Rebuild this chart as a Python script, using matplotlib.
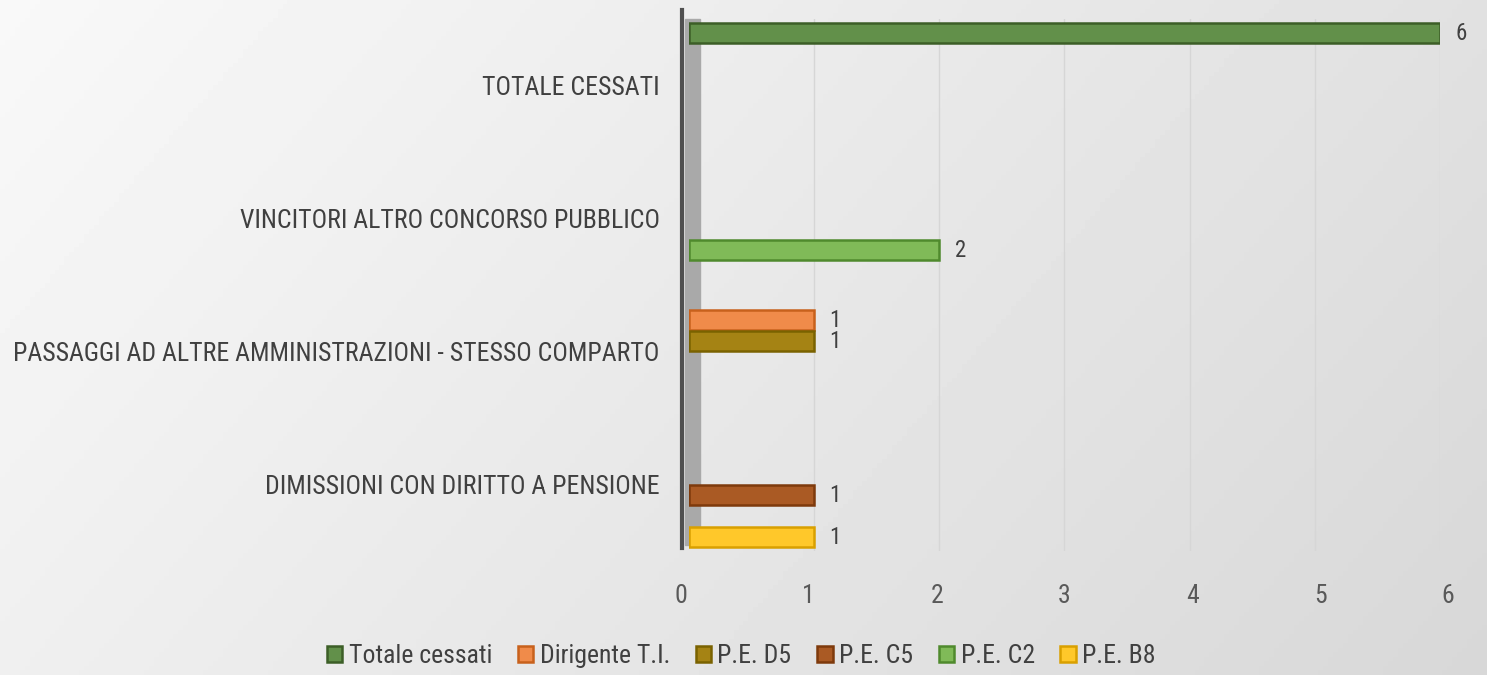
import numpy as np
import matplotlib.pyplot as plt
from matplotlib import font_manager as fm
from matplotlib.patches import Rectangle

# data (categories bottom -> top, as in the Excel chart)
categories = ['DIMISSIONI CON DIRITTO A PENSIONE',
              'PASSAGGI AD ALTRE AMMINISTRAZIONI - STESSO COMPARTO',
              'VINCITORI ALTRO CONCORSO PUBBLICO',
              'TOTALE CESSATI']
series_names = ['Totale cessati', 'Dirigente T.I.', 'P.E. D5', 'P.E. C5', 'P.E. C2', 'P.E. B8']
totale_cessati = [0, 0, 0, 6]
dirigente_ti = [0, 1, 0, 0]
pe_d5 = [0, 1, 0, 0]
pe_c5 = [1, 0, 0, 0]
pe_c2 = [0, 0, 2, 0]
pe_b8 = [1, 0, 0, 0]
xticks = [0, 1, 2, 3, 4, 5, 6]

values = [totale_cessati, dirigente_ti, pe_d5, pe_c5, pe_c2, pe_b8]
face = ['#62904a', '#f08b4a', '#a58314', '#aa5a24', '#80ba58', '#ffc82a']
edge = ['#3c5e27', '#c8611c', '#7a6200', '#7e3a0c', '#4f8a2d', '#d9a000']

names = {f.name for f in fm.fontManager.ttflist}
fam = 'DejaVu Sans'
for cand in ['Liberation Sans Narrow', 'Roboto Condensed', 'Roboto', 'Lato']:
    if cand in names:
        fam = cand
        break
plt.rcParams['font.family'] = [fam, 'DejaVu Sans']
fs = 18.5

fig = plt.figure(figsize=(14.87, 6.75), dpi=100)

# background gradient
bg = fig.add_axes([0, 0, 1, 1], zorder=-10)
xx, yy = np.meshgrid(np.linspace(0, 1, 300), np.linspace(0, 1, 150))
g = 0.975 - 0.13 * (0.72 * xx + 0.28 * yy)
bg.imshow(g, cmap='gray', vmin=0, vmax=1, aspect='auto', extent=[0, 1, 1, 0])
bg.axis('off')

ax = fig.add_axes([0.4633, 0.1837, 0.505, 0.788])
ax.patch.set_alpha(0)

slot = 0.158
y = np.arange(len(categories))
for i, (vals, fc, ec) in enumerate(zip(values, face, edge)):
    pos = y + (2.5 - i) * slot
    v = np.array(vals, dtype=float)
    mask = v > 0
    bars = ax.barh(pos[mask], v[mask], height=0.15, color=fc, edgecolor=ec,
                   linewidth=1.8, label=series_names[i], zorder=3)
    for b in bars:
        ax.annotate(f'{int(b.get_width())}', (b.get_width(), b.get_y() + b.get_height() / 2),
                    xytext=(11, 0), textcoords='offset points', ha='left', va='center',
                    fontsize=16.5, color='#404040')
ax.set_xlim(0, 6)
ax.set_ylim(-0.5, 3.5)

# grid lines
for t in xticks[1:]:
    ax.axvline(t, color='#d6d6d6', lw=1, zorder=1)

# left wall
ax.add_patch(Rectangle((-0.032, -0.455), 0.12, 3.955, color='#a9a9a9', zorder=2, clip_on=False))
ax.plot([-0.056, -0.056], [-0.48, 3.57], color='#505050', lw=3, zorder=2.5, clip_on=False)

for s in ax.spines.values():
    s.set_visible(False)
ax.set_xticks([])
ax.set_yticks(y)
ax.set_yticklabels(categories)
ax.tick_params(axis='y', length=0, pad=21, labelsize=fs, labelcolor='#404040')

# x tick labels sit on the front plane of the 3D chart, slightly wider
axl = fig.add_axes([681 / 1487, 0.1837, 767 / 1487, 0.001])
axl.patch.set_alpha(0)
axl.set_xlim(0, 6)
axl.set_xticks(xticks)
axl.set_xticklabels([str(t) for t in xticks])
axl.set_yticks([])
for s in axl.spines.values():
    s.set_visible(False)
axl.tick_params(axis='x', length=0, pad=24, labelsize=fs, labelcolor='#595959')

handles, labels = ax.get_legend_handles_labels()
fig.legend(handles, labels, loc='center', bbox_to_anchor=(0.4985, 0.028), ncol=6,
           frameon=False, fontsize=fs, handlelength=0.6, handleheight=0.6,
           handletextpad=0.25, columnspacing=1.0, labelcolor='#404040')

fig.savefig('out.png', dpi=100)
